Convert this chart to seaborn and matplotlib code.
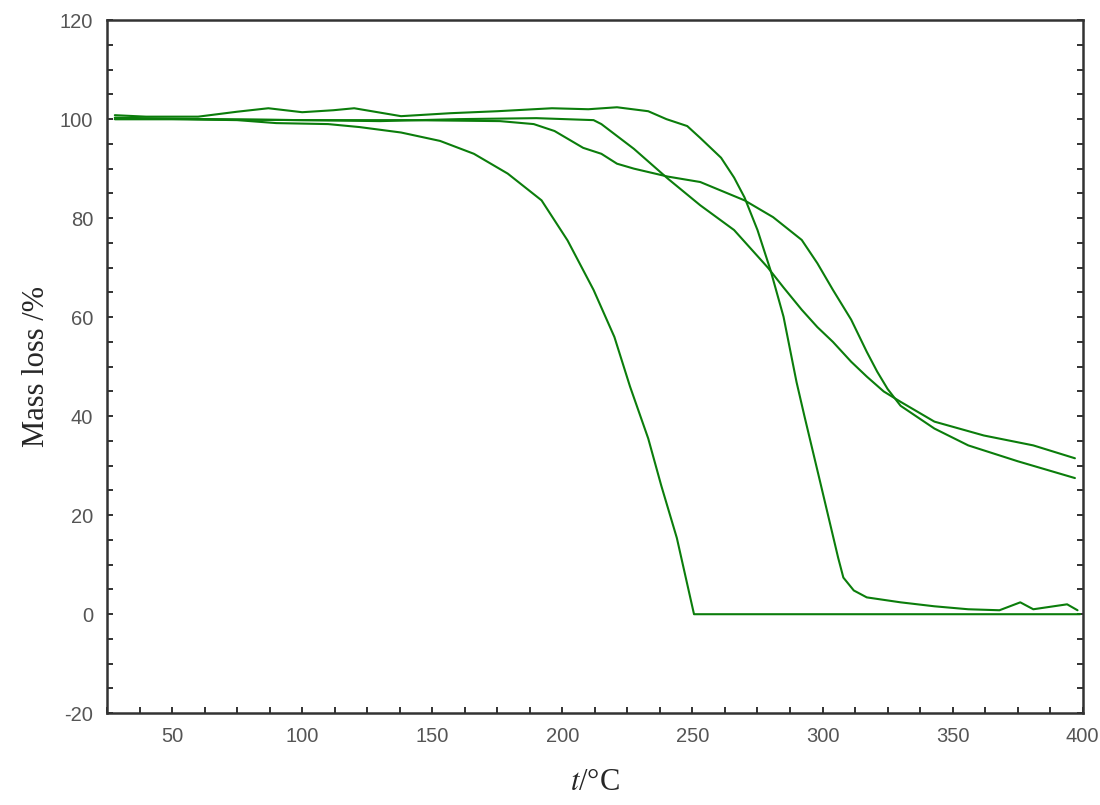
import matplotlib
matplotlib.use("Agg")
import matplotlib.pyplot as plt
import seaborn as sns
import numpy as np
import pandas as pd
from matplotlib.ticker import MultipleLocator

# ---- data ----
a_x = [28, 50, 75, 90, 110, 122, 138, 153, 166, 179, 192, 202, 212, 220, 226, 233, 238, 244, 250, 250.6, 300, 350, 399]
a_y = [100, 100, 99.8, 99.2, 99, 98.4, 97.3, 95.6, 93, 89, 83.6, 75.5, 65.5, 56, 46, 35.5, 26, 15.4, 1.4, 0, 0, 0, 0]

b_x = [28, 40, 60, 75, 87, 100, 112, 120, 138, 157, 175, 196, 210, 221, 233, 240, 248, 253, 261, 266, 270, 275, 280,
       285, 290, 293, 299, 306, 308, 312, 317, 330, 343, 356, 368, 376, 381, 394, 398]
b_y = [100.8, 100.5, 100.5, 101.5, 102.2, 101.4, 101.8, 102.2, 100.6, 101.2, 101.6, 102.2, 102, 102.4, 101.6, 100, 98.6,
       96.2, 92.2, 88.2, 84.2, 77.6, 69.5, 60.1, 46.9, 40.1, 26.9, 11.4, 7.4, 4.8, 3.4, 2.4, 1.6, 1.0, 0.8, 2.4, 1, 2, 0.8]

c_x = [28, 60, 100, 130, 160, 190, 212, 215, 227.5, 240.5, 253, 266, 279, 285, 292, 298, 304, 311, 317, 323.5, 330, 343,
       362, 381, 397]
c_y = [100, 100, 99.8, 99.6, 100, 100.2, 99.8, 99, 94, 88, 82.6, 77.6, 70, 66, 61.5, 58, 55, 51, 48, 45, 42.9, 38.9,
       36.1, 34.1, 31.5]

d_x = [28, 60, 100, 140, 176, 189, 197, 208, 215, 221, 227.5, 240.5, 253, 270, 281, 292, 298, 304, 311, 317, 321, 325,
       330, 343, 356, 375, 397]
d_y = [100.3, 100, 99.8, 99.8, 99.6, 99, 97.6, 94.2, 93, 91, 90, 88.4, 87.3, 83.6, 80.2, 75.6, 70.9, 65.5, 59.5, 53,
       49, 45.5, 42.1, 37.5, 34.1, 30.9, 27.5]

x_ticks = [50, 100, 150, 200, 250, 300, 350, 400]
y_ticks = [-20, 0, 20, 40, 60, 80, 100, 120]

series = {"A": (a_x, a_y), "B": (b_x, b_y), "C": (c_x, c_y), "D": (d_x, d_y)}

sns.set_style("ticks")
plt.rcParams["font.family"] = ["Liberation Sans", "DejaVu Sans"]
plt.rcParams["mathtext.fontset"] = "stix"
plt.rcParams["axes.unicode_minus"] = False

fig = plt.figure(figsize=(11, 8.05), dpi=100)
ax = fig.add_axes([0.0973, 0.114, 0.887, 0.861])

green = "#0b7d0b"
for name, (xs, ys) in series.items():
    df = pd.DataFrame({"x": xs, "y": ys})
    sns.lineplot(data=df, x="x", y="y", ax=ax, color=green, linewidth=1.5, sort=False, estimator=None)

ax.set_xlim(25, 400)
ax.set_ylim(-20, 120)
ax.set_xticks(x_ticks)
ax.set_yticks(y_ticks)
ax.xaxis.set_minor_locator(MultipleLocator(12.5))
ax.yaxis.set_minor_locator(MultipleLocator(5))

ax.tick_params(axis="both", which="both", direction="in", length=4, width=1.3, color="#222222",
               labelsize=14.5, labelcolor="#555555", pad=10)
ax.tick_params(axis="y", which="both", right=True, left=True)
ax.tick_params(axis="x", which="both", top=False)

for s in ax.spines.values():
    s.set_color("#333333")
    s.set_linewidth(1.8)

ax.set_xlabel(r"$t$/°C", fontsize=22, family=["Liberation Serif", "DejaVu Serif"], labelpad=16)
ax.set_ylabel("Mass loss /%", fontsize=22, family=["Liberation Serif", "DejaVu Serif"], labelpad=6)

fig.savefig("out.png", dpi=100)
